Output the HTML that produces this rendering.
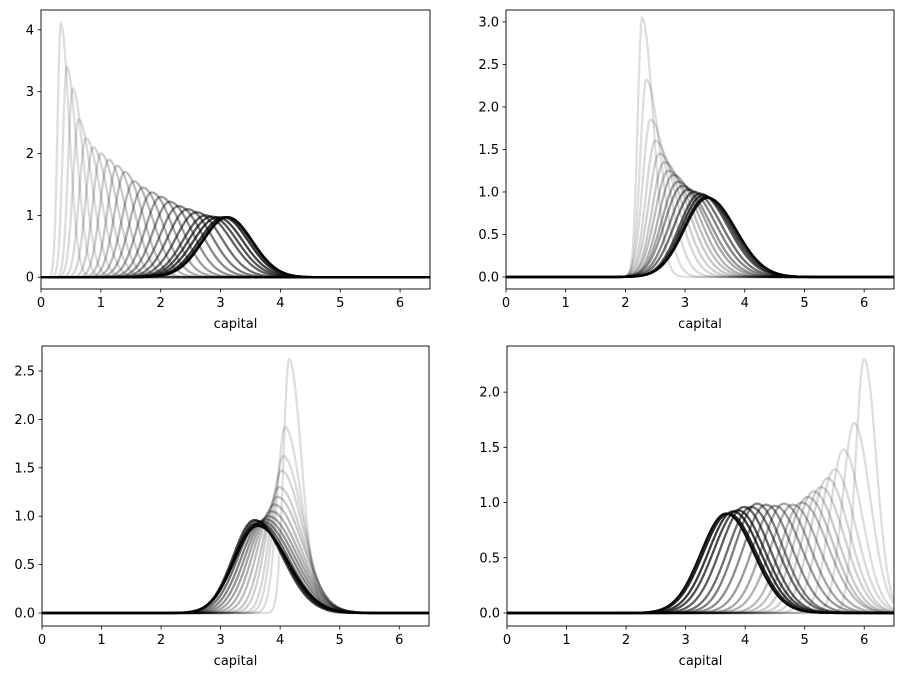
<!DOCTYPE html>
<html><head><meta charset="utf-8"><style>
body{margin:0;background:#fff}
svg text{font-family:"DejaVu Sans","Liberation Sans",sans-serif;font-size:13px;fill:#000}
</style></head><body>
<svg id="chart" width="904" height="679" xmlns="http://www.w3.org/2000/svg"></svg>
<script>
// Panel 1 data
const p1Peaks=[0.33,0.43,0.53,0.63,0.75,0.87,1.0,1.13,1.27,1.4,1.55,1.7,1.85,2.0,2.15,2.3,2.45,2.6,2.75,2.85,2.95,3.05,3.1,3.12];
const p1Heights=[4.1,3.4,3.05,2.55,2.25,2.1,2.0,1.9,1.8,1.7,1.55,1.45,1.37,1.3,1.22,1.15,1.1,1.05,1.0,0.98,0.97,0.97,0.97,0.97];
const p1Skew=[2.6,2.5,2.4,2.3,2.2,2.1,2.0,1.9,1.8,1.7,1.6,1.5,1.45,1.4,1.35,1.3,1.25,1.2,1.15,1.1,1.05,1.0,1.0,1.0];
const p1Ticks=[0,1,2,3,4];
// Panel 2 data
const p2Peaks=[2.28,2.35,2.42,2.5,2.57,2.65,2.72,2.8,2.88,2.95,3.05,3.15,3.25,3.3,3.35,3.38];
const p2Heights=[3.05,2.32,1.85,1.6,1.45,1.35,1.25,1.2,1.12,1.07,1.03,1.0,0.98,0.96,0.94,0.93];
const p2Skew=[2.5,2.4,2.3,2.2,2.1,2.0,1.9,1.8,1.7,1.6,1.5,1.4,1.35,1.3,1.25,1.2];
const p2Ticks=[0.0,0.5,1.0,1.5,2.0,2.5,3.0];
// Panel 3 data
const p3Peaks=[4.15,4.08,4.05,4.02,3.98,3.95,3.9,3.85,3.8,3.75,3.7,3.65,3.6,3.57,3.6,3.62];
const p3Heights=[2.62,1.92,1.62,1.47,1.3,1.2,1.12,1.05,1.0,0.97,0.95,0.94,0.95,0.96,0.92,0.9];
const p3Skew=[2.2,2.1,2.0,1.9,1.8,1.7,1.6,1.55,1.5,1.45,1.4,1.35,1.3,1.3,1.3,1.3];
const p3Ticks=[0.0,0.5,1.0,1.5,2.0,2.5];
// Panel 4 data
const p4Peaks=[6.0,5.83,5.65,5.5,5.38,5.27,5.15,5.05,4.95,4.8,4.65,4.5,4.35,4.2,4.1,3.98,3.88,3.8,3.72,3.68];
const p4Heights=[2.3,1.72,1.48,1.3,1.22,1.14,1.1,1.05,1.0,0.98,0.99,0.97,0.98,0.99,0.96,0.96,0.93,0.92,0.9,0.9];
const p4Skew=[1.4,1.4,1.35,1.35,1.3,1.3,1.3,1.25,1.25,1.2,1.2,1.2,1.15,1.15,1.15,1.1,1.1,1.1,1.1,1.1];
const p4Ticks=[0.0,0.5,1.0,1.5,2.0];
const xTicks=[0,1,2,3,4,5,6];

const NS="http://www.w3.org/2000/svg";
const svg=document.getElementById('chart');
function mk(tag,attrs,parent){const e=document.createElementNS(NS,tag);for(const k in attrs)e.setAttribute(k,attrs[k]);(parent||svg).appendChild(e);return e;}

function panel(idx,box,ymin,ymax,peaks,heights,skew,yTicks){
  const g=mk('g',{});
  
  
  const X=v=>box.x0+(v/6.5)*(box.x1-box.x0);
  const Y=v=>box.y1-(v-ymin)/(ymax-ymin)*(box.y1-box.y0);
  const cid='clip'+idx;
  const cp=mk('clipPath',{id:cid},g);
  mk('rect',{x:box.x0,y:box.y0,width:box.x1-box.x0,height:box.y1-box.y0},cp);
  const lines=mk('g',{'clip-path':'url(#'+cid+')'},g);
  const n=peaks.length;
  for(let i=0;i<n;i++){
    const m=peaks[i],h=heights[i],r=skew[i];
    const tot=0.798/h, sL=tot/(1+r), sR=tot-sL;
    let d='';
    for(let k=0;k<=650;k++){
      const x=k/100; const s=x<m?sL:sR;
      const y=h*Math.exp(-0.5*((x-m)/s)**2);
      d+=(k?'L':'M')+X(x).toFixed(2)+' '+Y(y).toFixed(2);
    }
    const f=i/(n-1);
    const op=0.13+0.8*f*f;
    const p=mk('path',{d:d,fill:'none',stroke:'#000','stroke-opacity':op.toFixed(3),'stroke-width':2.3},lines);
    
    
  }
  const frame=mk('rect',{x:box.x0,y:box.y0,width:box.x1-box.x0,height:box.y1-box.y0,fill:'none',stroke:'#000','stroke-width':0.9},g);
  
  
  xTicks.forEach(t=>{
    mk('line',{x1:X(t),x2:X(t),y1:box.y1,y2:box.y1+3.5,stroke:'#000','stroke-width':0.8},g);
    const tx=mk('text',{x:X(t),y:box.y1+18,'text-anchor':'middle'},g);
    tx.textContent=String(t);
    
    
  });
  yTicks.forEach(t=>{
    mk('line',{x1:box.x0-3.5,x2:box.x0,y1:Y(t),y2:Y(t),stroke:'#000','stroke-width':0.8},g);
    const tx=mk('text',{x:box.x0-7,y:Y(t)+4.5,'text-anchor':'end'},g);
    tx.textContent=(idx===1)?String(t):t.toFixed(1);
    
    
  });
  const lab=mk('text',{x:(box.x0+box.x1)/2,y:box.y1+39,'text-anchor':'middle'},g);
  lab.textContent='capital';
  
  
}
panel(1,{x0:41,x1:430,y0:10,y1:289},-0.19,4.32,p1Peaks,p1Heights,p1Skew,p1Ticks);
panel(2,{x0:506,x1:894,y0:10,y1:289},-0.141,3.14,p2Peaks,p2Heights,p2Skew,p2Ticks);
panel(3,{x0:42,x1:429,y0:346,y1:626},-0.134,2.758,p3Peaks,p3Heights,p3Skew,p3Ticks);
panel(4,{x0:507,x1:894,y0:346,y1:626},-0.118,2.418,p4Peaks,p4Heights,p4Skew,p4Ticks);
</script>
</body></html>
